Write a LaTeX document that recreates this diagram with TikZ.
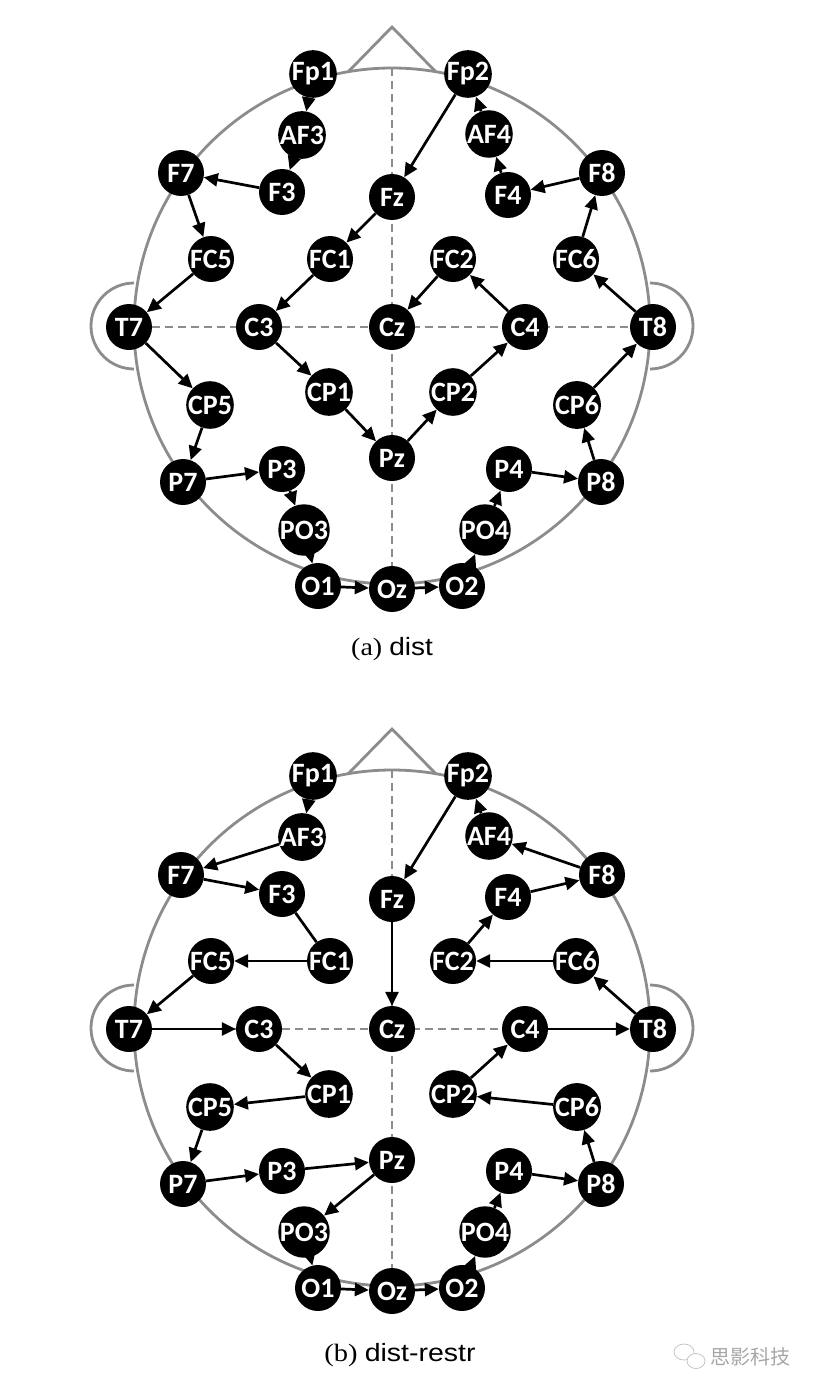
\documentclass[tikz,border=0pt]{standalone}
\usepackage{fontspec}
\setmainfont{Liberation Serif}
\setsansfont{Liberation Sans}
\newfontfamily\elfam{Carlito}
\newfontfamily\cjk{Noto Sans CJK SC}
\usetikzlibrary{arrows.meta,backgrounds}
\definecolor{headgray}{HTML}{8C8C8C}
\tikzset{
  el/.style={circle, fill=black, minimum size=46pt, inner sep=0pt, text=white,
    font={\elfam\bfseries\fontsize{28}{28}\selectfont}},
  arr/.style={line width=2.7pt, -{Triangle[length=14pt,width=13pt]}},
  plainedge/.style={line width=2.7pt},
  headline/.style={draw=headgray, line width=2.8pt},
  guide/.style={draw=headgray, line width=1.4pt, dash pattern=on 8pt off 5pt},
  caption/.style={anchor=base, font=\fontsize{25}{25}\selectfont, inner sep=0pt}
}
\newcommand{\eegnodes}[1]{%
  \foreach \n/\x/\y in {Fp1/313/74, Fp2/468/74, AF3/302/135, AF4/489/134,
    F7/181/173, F3/282/192, Fz/392/197, F4/508/195, F8/602/173,
    FC5/211/259, FC1/330/259, FC2/453/259, FC6/576/259,
    T7/129/327, C3/259/327, Cz/392/327, C4/525/327, T8/653/327,
    CP5/210/405, CP1/329/392, CP2/453/392, CP6/577/405,
    P7/183/482, P3/282/469, Pz/392/458, P4/509/469, P8/601/482,
    PO3/304/530, PO4/485/530, O1/318/586, Oz/392/589, O2/462/586}
    {\node[el] (#1\n) at (\x,\y) {\n};}%
}
\newcommand{\headshape}{%
  \draw[headline] (392,326) circle[radius=258];
  \draw[headline, line join=miter] (348,72) -- (392,27) -- (436,72);
  \draw[headline] (134,283) arc[start angle=270, end angle=90, radius=43];
  \draw[headline] (650,283) arc[start angle=-90, end angle=90, radius=43];
}
\newcommand{\guides}[1]{%
  \begin{pgfonlayer}{background}
    \coordinate (#1top) at (392,68);
    \draw[guide] (#1T7) -- (#1T8);
    \draw[guide] (#1top) -- (#1Oz);
  \end{pgfonlayer}%
}
\begin{document}
\begin{tikzpicture}[x=1pt,y=-1pt]
\useasboundingbox (0,0) rectangle (820,1394);
% ---------- (a) ----------
\begin{scope}
  \headshape
  \eegnodes{a}
  \guides{a}
  \foreach \s/\t in {Fp1/AF3, AF3/F3, F3/F7, F7/FC5, FC5/T7, T7/CP5, CP5/P7,
    P7/P3, P3/PO3, PO3/O1, O1/Oz, Oz/O2, O2/PO4, PO4/P4, P4/P8, P8/CP6,
    CP6/T8, T8/FC6, FC6/F8, F8/F4, F4/AF4, AF4/Fp2, Fp2/Fz, Fz/FC1,
    FC1/C3, C3/CP1, CP1/Pz, Pz/CP2, CP2/C4, C4/FC2, FC2/Cz}
    {\draw[arr] (a\s) -- (a\t);}
  \node[caption] (capa) at (392,655) {\scalebox{1.12}[1]{(a) \sffamily dist}};
\end{scope}
% ---------- (b) ----------
\begin{scope}[yshift=-702pt]
  \headshape
  \eegnodes{b}
  \guides{b}
  \foreach \s/\t in {Fp1/AF3, AF3/F7, F7/F3, FC1/FC5, FC5/T7, T7/C3,
    C3/CP1, CP1/CP5, CP5/P7, P7/P3, P3/Pz, Pz/PO3, PO3/O1, O1/Oz, Oz/O2,
    O2/PO4, PO4/P4, P4/P8, P8/CP6, CP6/CP2, CP2/C4, C4/T8, T8/FC6,
    FC6/FC2, FC2/F4, F4/F8, F8/AF4, AF4/Fp2, Fp2/Fz, Fz/Cz}
    {\draw[arr] (b\s) -- (b\t);}
  \draw[plainedge] (bF3) -- (bFC1);
  \node[caption] (capb) at (400,659) {\scalebox{1.14}[1]{(b) \sffamily dist-restr}};
\end{scope}
% ---------- watermark ----------
\draw[gray!45, line width=0.8pt] (684,1352) ellipse[x radius=10, y radius=8];
\draw[gray!45, line width=0.8pt, fill=white] (696,1361) ellipse[x radius=9, y radius=7.5];
\node[anchor=west, inner sep=0pt, text=gray!70, font={\cjk\fontsize{20}{20}\selectfont}] (wm) at (710,1357) {思影科技};
\end{tikzpicture}
\end{document}
